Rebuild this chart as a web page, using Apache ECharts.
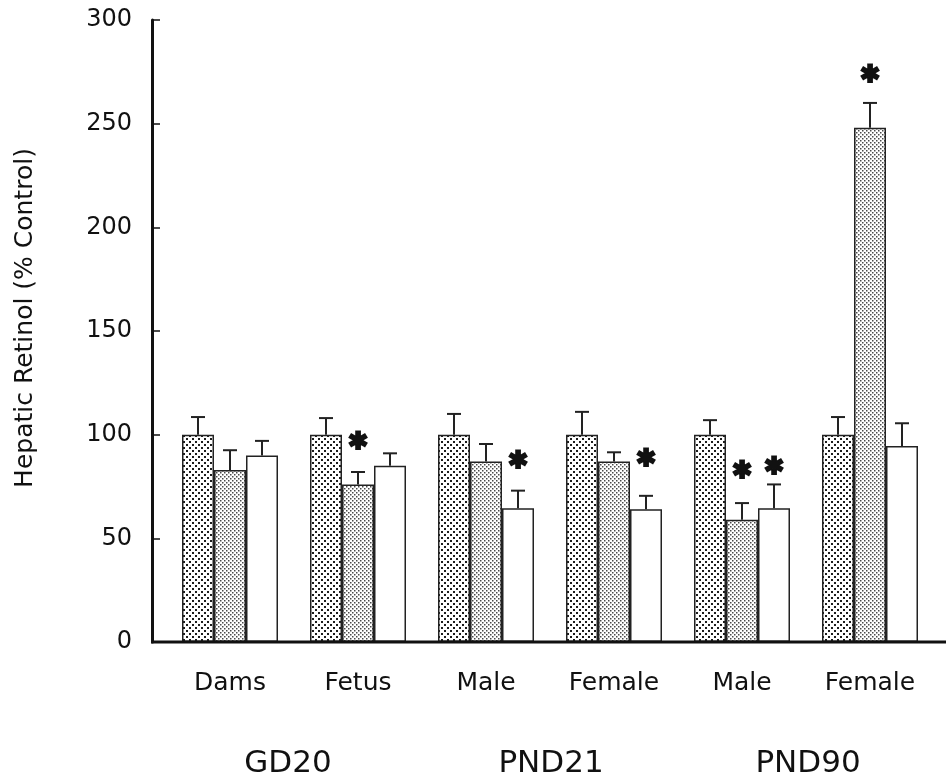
<!DOCTYPE html>
<html>
<head>
<meta charset="utf-8">
<script src="https://cdn.jsdelivr.net/npm/echarts@6/dist/echarts.min.js"></script>
<style>
  html, body { margin: 0; padding: 0; background: #fff; }
  #chart { width: 946px; height: 780px; }
</style>
</head>
<body>
<div id="chart"></div>
<script>
// groups along the x axis
const categories = ['Dams', 'Fetus', 'Male', 'Female', 'Male', 'Female']
const stages = ['GD20', 'PND21', 'PND90']
const yTicks = [0, 50, 100, 150, 200, 250, 300]

// hepatic retinol, % of control, with the top of each error bar
const controlVals = [100, 100, 100, 100, 100, 100]
const controlErr = [108.5, 108, 110, 111, 107, 108.5]
const lowVals = [83, 76, 87, 87, 59, 248]
const lowErr = [92.5, 82, 95.5, 91.5, 67, 260]
const highVals = [90, 85, 64.5, 64, 64.5, 94.5]
const highErr = [97, 91, 73, 70.5, 76, 105.5]

// where the significance asterisks sit (null = none)
const lowStar = [null, 96, null, null, 82, 273]
const highStar = [null, null, 87, 88, 84, null]

const FONT = '"DejaVu Sans"'

function dotTile(size, dots, fg) {
  let c = document.createElement('canvas')
  c.width = size
  c.height = size
  let ctx = c.getContext('2d')
  ctx.fillStyle = '#fff'
  ctx.fillRect(0, 0, size, size)
  ctx.fillStyle = fg
  dots.forEach(d => ctx.fillRect(d[0], d[1], d[2], d[2]))
  return c
}

const fills = [
  {image: dotTile(6, [[0, 0, 2], [3, 3, 2]], '#1c1c1c'), repeat: 'repeat'},
  {image: dotTile(4, [[0, 0, 1.5], [2, 2, 1.5]], '#4a4a4a'), repeat: 'repeat'},
  '#fff'
]

const chart = echarts.init(document.getElementById('chart'))

function barSeries(vals, k) {
  return {
    type: 'bar',
    barGap: 0,
    barCategoryGap: '25%',
    itemStyle: {color: fills[k], borderColor: '#222', borderWidth: 1.5},
    data: vals,
    z: 2
  }
}

function offsetX(api, k) {
  let band = api.size([1, 0])[0]
  let w = band * 0.75 / 3
  return api.coord([api.value(0), 0])[0] + (k - 1) * w
}

function errSeries(vals, errs, k) {
  return {
    type: 'custom',
    z: 3,
    data: vals.map((v, i) => [i, v, errs[i]]),
    renderItem: function(params, api) {
      let x = offsetX(api, k)
      let y0 = api.coord([0, api.value(1)])[1]
      let y1 = api.coord([0, api.value(2)])[1]
      let st = {stroke: '#222', lineWidth: 2}
      return {
        type: 'group',
        children: [
          {type: 'line', shape: {x1: x, y1: y0, x2: x, y2: y1}, style: st},
          {type: 'line', shape: {x1: x - 7, y1: y1, x2: x + 7, y2: y1}, style: st}
        ]
      }
    }
  }
}

function starSeries(stars, k) {
  return {
    type: 'custom',
    z: 4,
    data: stars.map((v, i) => [i, v]).filter(d => d[1] !== null),
    renderItem: function(params, api) {
      let x = offsetX(api, k)
      let y = api.coord([0, api.value(1)])[1]
      return {
        type: 'text',
        style: {
          text: '\u2731',
          x: x,
          y: y,
          align: 'center',
          verticalAlign: 'middle',
          font: 'bold 24px ' + FONT,
          fill: '#111',
          stroke: '#111',
          lineWidth: 2
        }
      }
    }
  }
}

function stageLabel(text, x) {
  return {
    type: 'text', x: x, y: 764,
    style: {text: text, font: '31px ' + FONT, fill: '#111', align: 'center', verticalAlign: 'middle'}
  }
}

const option = {
  animation: false,
  backgroundColor: '#fff',
  grid: {left: 166, right: 12, top: 20, bottom: 138, outerBoundsMode: 'none'},
  xAxis: {
    type: 'category',
    data: categories,
    axisLine: {show: false},
    axisTick: {show: false},
    axisLabel: {color: '#111', fontSize: 25, fontFamily: FONT, margin: 29}
  },
  yAxis: {
    type: 'value',
    min: yTicks[0],
    max: yTicks[yTicks.length - 1],
    interval: 50,
    offset: 14,
    axisLine: {show: true, lineStyle: {color: '#111', width: 3}},
    axisTick: {show: true, inside: true, length: 8, lineStyle: {color: '#111', width: 1.5}},
    axisLabel: {color: '#111', fontSize: 24, fontFamily: FONT, margin: 20},
    splitLine: {show: false}
  },
  graphic: [
    {type: 'line', shape: {x1: 151, y1: 642, x2: 946, y2: 642}, style: {stroke: '#111', lineWidth: 3}, z: 10},
    {
      type: 'text', x: 25, y: 318, rotation: Math.PI / 2,
      style: {text: 'Hepatic Retinol (% Control)', font: '25px ' + FONT, fill: '#111', align: 'center', verticalAlign: 'middle'}
    },
    stageLabel(stages[0], 288),
    stageLabel(stages[1], 551),
    stageLabel(stages[2], 808)
  ],
  series: [
    barSeries(controlVals, 0),
    barSeries(lowVals, 1),
    barSeries(highVals, 2),
    errSeries(controlVals, controlErr, 0),
    errSeries(lowVals, lowErr, 1),
    errSeries(highVals, highErr, 2),
    starSeries(lowStar, 1),
    starSeries(highStar, 2)
  ]
}

chart.setOption(option)
</script>
</body>
</html>
